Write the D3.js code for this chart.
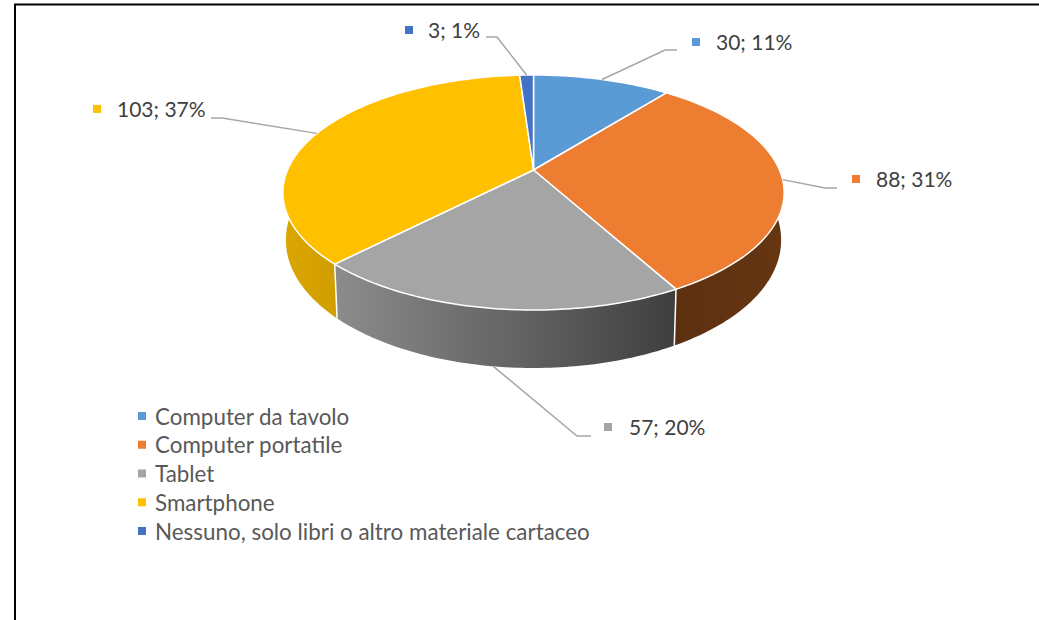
<!DOCTYPE html>
<html>
<head>
<meta charset="utf-8">
<script src="https://cdn.jsdelivr.net/npm/d3@7"></script>
<style>
  html, body { margin: 0; background: #fff; }
  svg { display: block; }
  text { font-family: Lato, "Open Sans", sans-serif; }
</style>
</head>
<body>
<div id="chart"></div>
<script>
const categories = ['Computer da tavolo', 'Computer portatile', 'Tablet', 'Smartphone', 'Nessuno, solo libri o altro materiale cartaceo']
const values = [30, 88, 57, 103, 3]
const percents = [11, 31, 20, 37, 1]
const colors = ['#5b9bd5', '#ed7d31', '#a5a5a5', '#ffc000', '#4472c4']
// start and end shade of the wall under each slice
const wallFrom = ['#3f6c96', '#5c3010', '#8c8c8c', '#dba600', '#d09e00']
const wallTo = ['#3f6c96', '#663612', '#3f3f3f', '#d09e00', '#2f4f88']

const width = 1039
const height = 620
const cx = 533.5
const cy = 170
const radius = 246
// perspective of the tilted disc
const k = 0.1915
const tilt = 113.2

// label layout: label end of the leader, its elbow, marker and text
const leaders = [
  [677, 50, 665, 50],
  [837, 188, 825, 188],
  [591, 436, 577, 436],
  [211, 118, 222, 118],
  [486, 37, 497, 37]
]
const labelX = [716, 876, 629, 117, 428]
const labelY = [43, 180, 428, 110, 31]
const markerX = [692, 852, 604, 93, 405]

const svg = d3.select('#chart')
  .append('svg')
  .attr('width', width)
  .attr('height', height)
  .attr('viewBox', [0, 0, width, height])

svg.append('path')
  .attr('d', `M15,${height} V4.5 H${width}`)
  .attr('fill', 'none')
  .attr('stroke', '#000')
  .attr('stroke-width', 2)

const pie = d3.pie().sort(null).value(d => d)
const slices = pie(values)

const upper = a => {
  const u = Math.sin(a)
  const v = -Math.cos(a)
  const w = 1 - k * v
  return [cx + radius * u / w, cy + tilt * v / w]
}
const lower = a => {
  const p = upper(a)
  const v = -Math.cos(a)
  return [cx + (p[0] - cx) * 0.988, p[1] + 45 + 13 * v]
}
const arcAngles = (a0, a1) => {
  const n = Math.max(2, Math.ceil((a1 - a0) * 60))
  return d3.range(n + 1).map(i => a0 + (a1 - a0) * i / n)
}
const line = d3.line()
const defs = svg.append('defs')

// walls, only the part of the rim facing the viewer
slices.forEach((s, i) => {
  const a0 = Math.max(s.startAngle, Math.PI / 2 - 0.1)
  const a1 = Math.min(s.endAngle, 3 * Math.PI / 2 + 0.1)
  if (a1 <= a0) return
  const angles = arcAngles(a0, a1)
  const pts = angles.map(a => upper(a)).concat(angles.slice().reverse().map(a => lower(a)))
  const xs = d3.extent(pts, p => p[0])
  const grad = defs.append('linearGradient')
    .attr('id', `wall${i}`)
    .attr('gradientUnits', 'userSpaceOnUse')
    .attr('x1', xs[1]).attr('x2', xs[0])
    .attr('y1', 0).attr('y2', 0)
  grad.append('stop').attr('offset', 0).attr('stop-color', wallTo[i])
  grad.append('stop').attr('offset', 1).attr('stop-color', wallFrom[i])
  svg.append('path')
    .attr('d', line(pts) + 'Z')
    .attr('fill', `url(#wall${i})`)
})

// white seams where two walls meet
slices.slice(1).forEach(s => {
  const a = s.startAngle
  if (a > Math.PI / 2 && a < 3 * Math.PI / 2) {
    svg.append('path')
      .attr('d', line([upper(a), lower(a)]))
      .attr('stroke', '#fff')
      .attr('stroke-width', 1.5)
  }
})

// top face
svg.append('g')
  .selectAll('path')
  .data(slices)
  .join('path')
  .attr('d', s => line([[cx, cy]].concat(arcAngles(s.startAngle, s.endAngle).map(a => upper(a)))) + 'Z')
  .attr('fill', (s, i) => colors[i])
  .attr('stroke', '#fff')
  .attr('stroke-width', 1.5)
  .attr('stroke-linejoin', 'round')

// leader lines: from label to elbow to the middle of the slice rim
slices.forEach((s, i) => {
  const a = (s.startAngle + s.endAngle) / 2
  const end = i === 2 ? lower(a) : upper(a)
  const [x0, y0, x1, y1] = leaders[i]
  svg.append('path')
    .attr('d', line([[x0, y0], [x1, y1], end]))
    .attr('fill', 'none')
    .attr('stroke', '#a6a6a6')
    .attr('stroke-width', 1.5)
})

// data labels
values.forEach((v, i) => {
  svg.append('rect')
    .attr('x', markerX[i])
    .attr('y', labelY[i] - 5)
    .attr('width', 8)
    .attr('height', 8)
    .attr('fill', colors[i])
  svg.append('text')
    .attr('x', labelX[i])
    .attr('y', labelY[i] + 7)
    .attr('font-size', 21)
    .attr('fill', '#404040')
    .text(`${v}; ${percents[i]}%`)
})

// legend
const legendY = d3.scalePoint()
  .domain(categories)
  .range([418, 533])

const legend = svg.append('g')
  .selectAll('g')
  .data(categories)
  .join('g')
  .attr('transform', d => `translate(138,${legendY(d)})`)

legend.append('rect')
  .attr('y', -6)
  .attr('width', 8)
  .attr('height', 8)
  .attr('fill', (d, i) => colors[i])

legend.append('text')
  .attr('x', 17)
  .attr('y', 6.5)
  .attr('font-size', 22.4)
  .attr('fill', '#595959')
  .text(d => d)
</script>
</body>
</html>
